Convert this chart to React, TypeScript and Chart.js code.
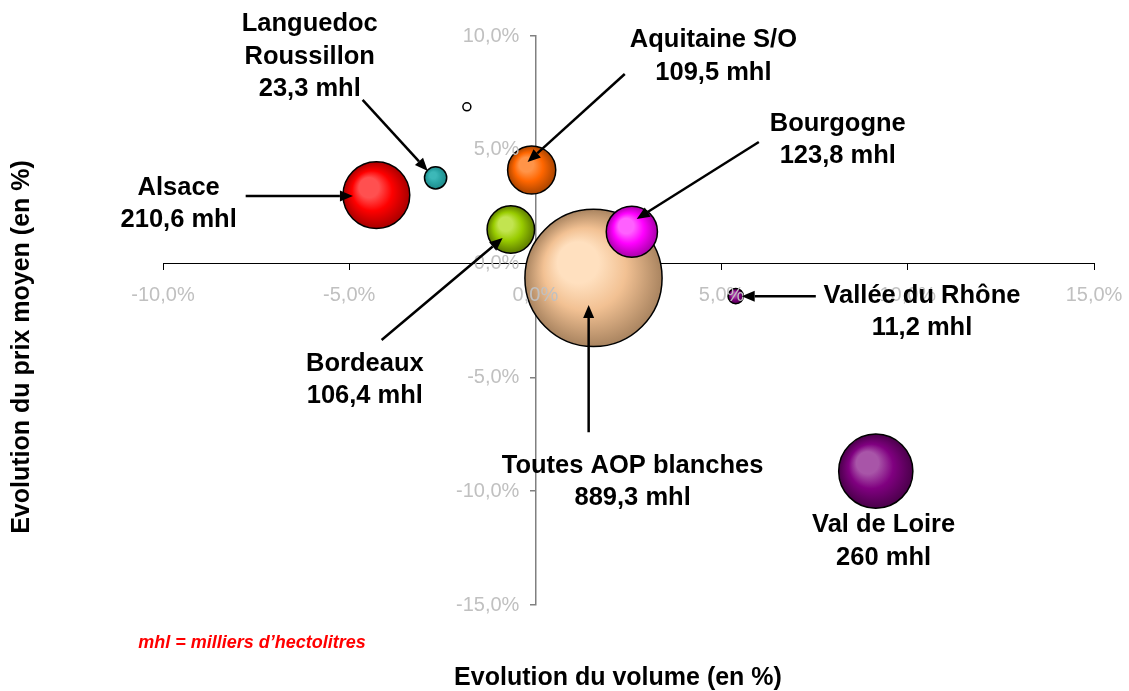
import React, { useEffect, useRef } from "react";
import { Chart, registerables } from "chart.js";

Chart.register(...registerables);

// ---- Data ----
const categories = [
  "Toutes AOP blanches",
  "Alsace",
  "Languedoc Roussillon",
  "Autre",
  "Aquitaine S/O",
  "Bordeaux",
  "Bourgogne",
  "Vallée du Rhône",
  "Val de Loire",
];
const volumeChange = [1.56, -4.27, -2.68, -1.84, -0.1, -0.66, 2.59, 5.38, 9.14];
const priceChange = [-0.63, 3.01, 3.77, 6.89, 4.11, 1.5, 1.4, -1.43, -9.12];
const volumesMhl = [889.3, 210.6, 23.3, 3, 109.5, 106.4, 123.8, 11.2, 260];
const xTicks = [-10, -5, 0, 5, 10, 15];
const yTicks = [-15, -10, -5, 0, 5, 10];

// ---- Styles ----
const bubbleLight = ["#ffe0bf", "#ff5050", "#3cb8b8", "#ffffff", "#ff9448", "#c2e450", "#ff60ff", "#a848a8", "#a855a8"];
const bubbleBase = ["#f2c193", "#ff0000", "#2aa5a5", "#ffffff", "#ff6600", "#99cc00", "#ff00ff", "#800080", "#800080"];
const bubbleDark = ["#a98460", "#a80000", "#1f8a8a", "#ffffff", "#a84400", "#5c7a00", "#a800a8", "#500050", "#4a004a"];
const RADIUS_PER_SQRT_MHL = 2.3;

// Annotations: text blocks and arrows, in data units (x = volume %, y = price %)
const labelBlocks = [
  { lines: ["Languedoc", "Roussillon", "23,3 mhl"], x: -6.06, y: 9.1 },
  { lines: ["Aquitaine S/O", "109,5 mhl"], x: 4.78, y: 9.1 },
  { lines: ["Bourgogne", "123,8 mhl"], x: 8.12, y: 5.43 },
  { lines: ["Alsace", "210,6 mhl"], x: -9.58, y: 2.62 },
  { lines: ["Bordeaux", "106,4 mhl"], x: -4.58, y: -5.12 },
  { lines: ["Toutes AOP blanches", "889,3 mhl"], x: 2.61, y: -9.6 },
  { lines: ["Vallée du Rhône", "11,2 mhl"], x: 10.38, y: -2.13 },
  { lines: ["Val de Loire", "260 mhl"], x: 9.35, y: -12.2 },
];
const arrows = [
  { from: [-4.64, 7.19], to: [-2.89, 4.07] },
  { from: [2.4, 8.33], to: [-0.21, 4.46] },
  { from: [6.0, 5.34], to: [2.72, 1.96] },
  { from: [-7.78, 2.97], to: [-4.9, 2.97] },
  { from: [-4.13, -3.36], to: [-0.88, 1.12] },
  { from: [1.43, -7.41], to: [1.43, -1.82] },
  { from: [7.53, -1.43], to: [5.54, -1.43] },
];

const FONT = '"Liberation Sans", Arial, sans-serif';
const fmt = (v: number) => v.toFixed(1).replace(".", ",") + "%";

const overlayPlugin = {
  id: "overlay",
  afterDatasetsDraw(chart: any) {
    const { ctx } = chart;
    const xs = chart.scales.x;
    const ys = chart.scales.y;
    const x0 = xs.getPixelForValue(0);
    const y0 = ys.getPixelForValue(0);
    ctx.save();

    // tick labels
    ctx.font = `20px ${FONT}`;
    ctx.fillStyle = "#c0c0c0";
    ctx.textAlign = "center";
    ctx.textBaseline = "middle";
    xTicks.forEach((v) => ctx.fillText(fmt(v), xs.getPixelForValue(v), y0 + 32));
    ctx.textAlign = "right";
    yTicks.forEach((v) => ctx.fillText(fmt(v), x0 - 16, ys.getPixelForValue(v)));

    // arrows
    ctx.strokeStyle = "#000";
    ctx.fillStyle = "#000";
    ctx.lineWidth = 2.5;
    arrows.forEach((a) => {
      const fx = xs.getPixelForValue(a.from[0]);
      const fy = ys.getPixelForValue(a.from[1]);
      const tx = xs.getPixelForValue(a.to[0]);
      const ty = ys.getPixelForValue(a.to[1]);
      const ang = Math.atan2(ty - fy, tx - fx);
      const hl = 13;
      const hw = 5.5;
      const bx = tx - hl * Math.cos(ang);
      const by = ty - hl * Math.sin(ang);
      ctx.beginPath();
      ctx.moveTo(fx, fy);
      ctx.lineTo(bx, by);
      ctx.stroke();
      ctx.beginPath();
      ctx.moveTo(tx, ty);
      ctx.lineTo(bx + hw * Math.sin(ang), by - hw * Math.cos(ang));
      ctx.lineTo(bx - hw * Math.sin(ang), by + hw * Math.cos(ang));
      ctx.closePath();
      ctx.fill();
    });

    // labels
    ctx.font = `bold 25.5px ${FONT}`;
    ctx.textAlign = "center";
    ctx.textBaseline = "middle";
    const lh = 32.5;
    labelBlocks.forEach((b) => {
      const cx = xs.getPixelForValue(b.x);
      const cy = ys.getPixelForValue(b.y);
      const n = b.lines.length;
      b.lines.forEach((t, i) => ctx.fillText(t, cx, cy + (i - (n - 1) / 2) * lh));
    });

    // axis titles
    ctx.font = `bold 25px ${FONT}`;
    ctx.fillText("Evolution du volume (en %)", 618, 678);
    ctx.save();
    ctx.translate(22, 347);
    ctx.rotate(-Math.PI / 2);
    ctx.fillText("Evolution du prix moyen (en %)", 0, 0);
    ctx.restore();

    // note
    ctx.font = `italic bold 18px ${FONT}`;
    ctx.fillStyle = "#ff0000";
    ctx.fillText("mhl = milliers d\u2019hectolitres", 252, 643);

    ctx.restore();
  },
};

export default function App() {
  const canvasRef = useRef<HTMLCanvasElement | null>(null);

  useEffect(() => {
    const canvas = canvasRef.current;
    if (!canvas) return;
    const data = categories.map((_, i) => ({
      x: volumeChange[i],
      y: priceChange[i],
      r: RADIUS_PER_SQRT_MHL * Math.sqrt(volumesMhl[i]),
    }));
    const chart = new Chart(canvas, {
      type: "bubble",
      data: {
        labels: categories,
        datasets: [
          {
            label: "AOP blanches",
            data,
            borderColor: "#000",
            borderWidth: 1.5,
            clip: false,
            backgroundColor: (c: any) => {
              const i = c.dataIndex;
              const ch = c.chart;
              if (i === undefined || !ch.chartArea || !ch.scales.x) return bubbleBase[i ?? 0];
              const raw = c.raw || data[i];
              const cx = ch.scales.x.getPixelForValue(raw.x);
              const cy = ch.scales.y.getPixelForValue(raw.y);
              const r = raw.r;
              const g = ch.ctx.createRadialGradient(cx - 0.32 * r, cy - 0.32 * r, 0, cx, cy, r);
              g.addColorStop(0, bubbleLight[i]);
              g.addColorStop(0.3, bubbleLight[i]);
              g.addColorStop(0.6, bubbleBase[i]);
              g.addColorStop(1, bubbleDark[i]);
              return g;
            },
          } as any,
        ],
      },
      options: {
        animation: false,
        responsive: true,
        maintainAspectRatio: false,
        events: [],
        layout: { autoPadding: false, padding: { left: 163, right: 35, top: 36, bottom: 86 } },
        plugins: { legend: { display: false }, tooltip: { enabled: false } },
        scales: {
          x: {
            type: "linear",
            min: -10,
            max: 15,
            position: { y: 0 } as any,
            afterFit: (s: any) => {
              s.height = 0;
            },
            afterBuildTicks: (s: any) => {
              s.ticks = xTicks.map((v) => ({ value: v }));
            },
            grid: { drawOnChartArea: false, drawTicks: true, tickLength: 6, tickColor: "#000", lineWidth: 1 },
            border: { color: "#000", width: 1 },
            ticks: { display: false },
          },
          y: {
            type: "linear",
            min: -15,
            max: 10,
            position: { x: 0 } as any,
            afterFit: (s: any) => {
              s.width = 0;
            },
            afterBuildTicks: (s: any) => {
              s.ticks = yTicks.map((v) => ({ value: v }));
            },
            grid: { drawOnChartArea: false, drawTicks: true, tickLength: 5, tickColor: "#808080", lineWidth: 1.5 },
            border: { color: "#808080", width: 1.5 },
            ticks: { display: false },
          },
        },
      },
      plugins: [overlayPlugin],
    });
    return () => chart.destroy();
  }, []);

  return (
    <div style={{ position: "fixed", left: 0, top: 0, width: 1129, height: 691, background: "#fff" }}>
      <canvas ref={canvasRef} />
    </div>
  );
}
